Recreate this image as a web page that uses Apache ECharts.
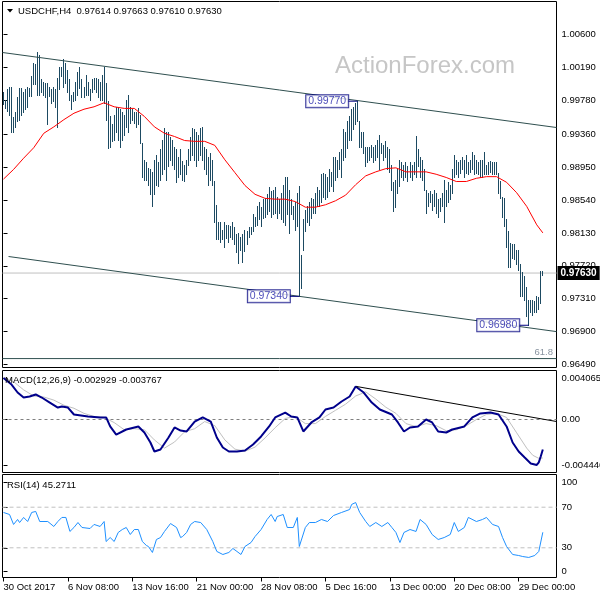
<!DOCTYPE html>
<html><head><meta charset="utf-8">
<script src="https://cdn.jsdelivr.net/npm/echarts@6/dist/echarts.min.js"></script>
<style>html,body{margin:0;padding:0;background:#fff}#c{width:600px;height:600px}</style>
</head><body><div id="c"></div>
<script>
// ---- price bars (H4), index 0..268 ----
const highs = [
0.9989,0.9979,0.9992,0.9995,0.9995,0.9957,0.9963,0.9982,0.9994,0.9994,
0.9988,0.9992,0.9995,0.9994,1.0008,1.0025,1.0023,1.0038,1.0034,1.0004,
1.0001,1.0000,1.0000,0.9995,0.9992,0.9995,0.9992,1.0006,1.0020,1.0020,
1.0029,1.0025,1.0016,1.0004,0.9985,0.9988,1.0001,1.0013,1.0019,1.0004,
0.9995,1.0010,1.0001,0.9992,1.0004,1.0006,1.0006,1.0004,1.0001,1.0010,
1.0019,1.0000,0.9977,0.9958,0.9948,0.9960,0.9970,0.9969,0.9967,0.9963,
0.9960,0.9979,0.9985,0.9970,0.9967,0.9963,0.9964,0.9969,0.9960,0.9925,
0.9904,0.9901,0.9894,0.9892,0.9889,0.9904,0.9910,0.9901,0.9917,0.9929,
0.9944,0.9938,0.9939,0.9933,0.9929,0.9920,0.9917,0.9908,0.9917,0.9902,
0.9898,0.9904,0.9917,0.9933,0.9944,0.9942,0.9938,0.9935,0.9944,0.9945,
0.9920,0.9917,0.9908,0.9913,0.9904,0.9877,0.9848,0.9827,0.9826,0.9817,
0.9827,0.9823,0.9823,0.9821,0.9827,0.9820,0.9811,0.9813,0.9808,0.9811,
0.9817,0.9815,0.9820,0.9820,0.9836,0.9833,0.9846,0.9851,0.9845,0.9855,
0.9857,0.9861,0.9870,0.9865,0.9867,0.9870,0.9858,0.9855,0.9863,0.9873,
0.9882,0.9883,0.9867,0.9855,0.9846,0.9851,0.9863,0.9871,0.9786,0.9830,
0.9842,0.9846,0.9851,0.9857,0.9855,0.9863,0.9870,0.9867,0.9886,0.9888,
0.9886,0.9882,0.9892,0.9889,0.9908,0.9907,0.9904,0.9914,0.9917,0.9942,
0.9938,0.9952,0.9958,0.9967,0.9970,0.9975,0.9977,0.9952,0.9939,0.9938,
0.9920,0.9920,0.9920,0.9923,0.9920,0.9923,0.9929,0.9935,0.9925,0.9923,
0.9927,0.9920,0.9917,0.9898,0.9876,0.9879,0.9892,0.9904,0.9901,0.9898,
0.9901,0.9896,0.9901,0.9898,0.9901,0.9934,0.9917,0.9908,0.9904,0.9892,
0.9867,0.9863,0.9865,0.9861,0.9867,0.9863,0.9855,0.9857,0.9863,0.9879,
0.9867,0.9876,0.9873,0.9892,0.9910,0.9904,0.9901,0.9904,0.9908,0.9904,
0.9910,0.9901,0.9904,0.9914,0.9910,0.9904,0.9901,0.9904,0.9904,0.9914,
0.9898,0.9901,0.9902,0.9901,0.9901,0.9901,0.9888,0.9877,0.9858,0.9857,
0.9830,0.9815,0.9801,0.9799,0.9799,0.9792,0.9792,0.9774,0.9764,0.9759,
0.9746,0.9730,0.9730,0.9730,0.9728,0.9734,0.9733,0.9765,0.9766];
const lows = [
0.9973,0.9969,0.9965,0.9960,0.9938,0.9938,0.9945,0.9952,0.9954,0.9960,
0.9963,0.9967,0.9970,0.9983,0.9983,0.9998,0.9998,0.9985,0.9985,0.9988,
0.9985,0.9982,0.9948,0.9983,0.9975,0.9977,0.9970,0.9945,0.9992,1.0008,
0.9995,1.0000,0.9988,0.9979,0.9967,0.9977,0.9979,0.9985,0.9994,0.9982,
0.9982,0.9985,0.9985,0.9979,0.9988,0.9992,0.9989,0.9982,0.9979,0.9979,
0.9975,0.9954,0.9919,0.9920,0.9927,0.9929,0.9938,0.9929,0.9920,0.9929,
0.9935,0.9945,0.9938,0.9950,0.9954,0.9950,0.9945,0.9948,0.9925,0.9883,
0.9879,0.9879,0.9873,0.9861,0.9846,0.9861,0.9873,0.9871,0.9879,0.9886,
0.9892,0.9879,0.9896,0.9904,0.9898,0.9892,0.9876,0.9882,0.9886,0.9879,
0.9877,0.9886,0.9898,0.9904,0.9910,0.9904,0.9896,0.9904,0.9910,0.9904,
0.9892,0.9886,0.9873,0.9879,0.9873,0.9826,0.9805,0.9805,0.9802,0.9805,
0.9795,0.9807,0.9802,0.9808,0.9805,0.9799,0.9789,0.9776,0.9792,0.9777,
0.9790,0.9799,0.9808,0.9811,0.9815,0.9821,0.9823,0.9830,0.9821,0.9832,
0.9833,0.9836,0.9840,0.9833,0.9836,0.9838,0.9832,0.9838,0.9830,0.9827,
0.9823,0.9836,0.9813,0.9836,0.9830,0.9817,0.9821,0.9734,0.9745,0.9792,
0.9815,0.9826,0.9823,0.9832,0.9838,0.9838,0.9846,0.9846,0.9851,0.9858,
0.9855,0.9858,0.9865,0.9871,0.9865,0.9879,0.9883,0.9892,0.9883,0.9904,
0.9908,0.9919,0.9929,0.9929,0.9942,0.9948,0.9952,0.9920,0.9920,0.9913,
0.9896,0.9901,0.9904,0.9908,0.9901,0.9904,0.9907,0.9892,0.9913,0.9904,
0.9908,0.9892,0.9889,0.9867,0.9840,0.9845,0.9863,0.9871,0.9882,0.9879,
0.9883,0.9877,0.9882,0.9879,0.9886,0.9883,0.9896,0.9883,0.9879,0.9867,
0.9838,0.9846,0.9851,0.9842,0.9846,0.9838,0.9833,0.9840,0.9846,0.9826,
0.9846,0.9851,0.9855,0.9863,0.9883,0.9886,0.9883,0.9888,0.9892,0.9883,
0.9888,0.9886,0.9889,0.9892,0.9886,0.9888,0.9886,0.9883,0.9883,0.9886,
0.9886,0.9886,0.9889,0.9886,0.9886,0.9886,0.9863,0.9857,0.9833,0.9821,
0.9796,0.9771,0.9770,0.9782,0.9780,0.9774,0.9767,0.9734,0.9734,0.9730,
0.9709,0.9698,0.9714,0.9711,0.9714,0.9714,0.9718,0.9726,0.9761];

// moving average (red)
const maBar = [0,5,10,15,20,25,30,35,40,45,50,55,60,65,70,75,80,85,90,95,100,105,110,115,120,125,130,135,140,145,150,155,160,165,170,175,180,185,190,195,200,205,210,215,220,225,230,235,240,245,250,255,260,265,268];
const maVal = [0.9880,0.9892,0.9906,0.9919,0.9937,0.9945,0.9954,0.9962,0.9967,0.9970,0.9975,0.9970,0.9968,0.9968,0.9958,0.9945,0.9937,0.9933,0.9928,0.9927,0.9927,0.9922,0.9904,0.9888,0.9872,0.9861,0.9856,0.9855,0.9855,0.9852,0.9845,0.9845,0.9848,0.9853,0.9860,0.9873,0.9884,0.9889,0.9893,0.9894,0.9889,0.9889,0.9889,0.9886,0.9882,0.9877,0.9877,0.9881,0.9883,0.9883,0.9876,0.9863,0.9846,0.9823,0.9813];

// channel lines [bar, price]
const channelUpper = [[-0.5, 1.00376], [274.8, 0.99442]];
const channelLower = [[2.5, 0.97836], [274.8, 0.96901]];

// price levels
const currentPrice = 0.97630;
const fibPrice = 0.96565;
const fibText = '61.8';

// annotations
const annotBar = [176, 147, 261];
const annotPrice = [0.9977, 0.9734, 0.9698];
const annotText = ['0.99770', '0.97340', '0.96980'];

// price axis labels
const priceTicks = [1.00600,1.00190,0.99780,0.99360,0.98950,0.98540,0.98130,0.97720,0.97310,0.96900,0.96490];

// MACD(12,26,9)
const macdBar = [0,4,7,10,13,16,19,23,27,29,32,35,42,48,51,53,56,61,67,70,73,75,78,82,85,88,91,95,99,103,106,109,112,116,120,124,128,132,135,140,143,146,149,153,157,160,164,168,172,175,179,183,187,193,196,199,202,206,210,213,216,220,223,229,233,237,242,246,250,253,256,259,262,265,266,267,268];
const macdVal = [0.004065,0.00342,0.00264,0.00215,0.00225,0.00245,0.00215,0.00166,0.00117,0.00127,0.00117,0.00049,0.00029,0.0002,0.0002,-0.00068,-0.00147,-0.00098,-0.00068,-0.00127,-0.00225,-0.00313,-0.00293,-0.00176,-0.00078,-0.00108,-0.00117,-0.0002,0.0002,-0.0002,-0.00176,-0.00274,-0.00313,-0.00313,-0.00303,-0.00245,-0.00166,-0.00068,0.0002,0.00068,0.00029,0.0002,-0.00117,-0.00029,0.0002,0.00098,0.00117,0.00176,0.00225,0.00323,0.00264,0.00166,0.00098,0.00049,-0.00029,-0.00117,-0.00078,-0.00068,0,-0.00029,-0.00117,-0.00127,-0.00098,-0.00068,0.0002,0.00059,0.00068,0.00049,-0.00068,-0.00225,-0.00313,-0.00372,-0.0043,-0.004446,-0.0042,-0.0036,-0.002929];
const sigBar = [0,5,10,15,20,25,30,35,40,45,50,55,60,65,70,75,80,85,90,95,100,105,110,115,120,125,130,135,140,145,150,155,160,165,170,175,180,185,190,195,200,205,210,215,220,225,230,235,240,245,250,255,260,263,266,268];
const sigVal = [0.0041,0.0037,0.0029,0.0023,0.0022,0.0019,0.0014,0.0011,0.0006,0.0003,0.0002,-0.0003,-0.0010,-0.0009,-0.0010,-0.0020,-0.0028,-0.0022,-0.0012,-0.0009,-0.0002,-0.0006,-0.0020,-0.0029,-0.0031,-0.0027,-0.0018,-0.0008,0.0001,0.0003,-0.0004,-0.0004,0.0003,0.0009,0.0015,0.0023,0.0027,0.0020,0.0012,0.0006,-0.0004,-0.0007,-0.0004,-0.0006,-0.0011,-0.0010,-0.0006,0.0000,0.0005,0.0006,0.0002,-0.0013,-0.0028,-0.0035,-0.0038,-0.003767];
const macdTrend = [[175.4, 0.00323], [274.8, -0.000196]];
const macdTicks = [0.004065, 0, -0.004446];

// RSI(14)
const rsiBar = [0,3,5,7,8,10,12,14,16,18,22,25,27,29,31,33,35,37,39,43,45,48,50,51,53,55,57,59,61,63,65,67,69,71,72,74,76,78,80,83,86,88,89,91,93,95,98,101,104,106,109,112,114,116,118,120,123,125,128,131,133,135,136,139,141,144,146,147,150,152,155,158,161,164,168,172,173,175,177,180,182,185,188,191,193,195,197,199,202,205,207,210,213,216,219,222,224,226,229,231,235,238,240,243,246,248,250,253,256,258,261,264,266,268];
const rsiVal = [64.8,62.8,53.0,57.9,54.9,59.9,55.9,64.8,65.8,55.9,55.9,51.0,55.9,59.9,59.9,46.1,50.0,54.9,50.0,49.0,53.0,51.0,55.9,36.2,40.1,36.2,45.1,48.0,50.0,43.1,48.0,48.0,36.2,32.3,31.3,25.4,38.2,40.1,46.1,53.9,50.0,40.1,41.1,45.1,53.0,55.9,54.9,48.0,36.2,26.4,23.4,25.4,29.3,26.4,23.4,31.3,35.2,41.1,48.0,57.9,62.8,55.9,60.8,62.8,50.0,50.0,59.9,31.3,50.0,54.9,54.9,57.9,55.9,61.8,64.8,67.7,72.7,74.6,64.8,55.9,51.0,54.9,51.0,54.9,50.0,45.1,35.2,45.1,48.0,46.1,57.9,53.0,43.1,38.2,40.1,43.1,54.9,46.1,50.0,59.9,55.9,57.9,59.9,53.0,51.0,40.1,31.3,23.4,22.4,21.4,20.5,22.4,26.4,45.27];
const rsiLevels = [70, 30];
const rsiTickText = ['100', '70', '30', '0'];

// time axis
const timeBars = [0,32,64,96,128,160,192,224,256];
const timeLabels = ['30 Oct 2017','6 Nov 08:00','13 Nov 16:00','21 Nov 00:00','28 Nov 08:00','5 Dec 16:00','13 Dec 00:00','20 Dec 08:00','29 Dec 00:00'];

// ---------------- chart ----------------
const F = 'Liberation Sans';
const FS = 9.5;
const X_MIN = -0.5, X_MAX = 274.8;
const pairs = (a, b) => a.map((v, k) => [v, b[k]]);
const hline = v => [[X_MIN, v], [X_MAX, v]];

function xAxis(g, showLabels) {
  return {
    type: 'value', gridIndex: g, min: X_MIN, max: X_MAX,
    axisLine: { show: false },
    splitLine: { show: false },
    axisTick: showLabels ? { show: true, customValues: timeBars, length: 4, lineStyle: { color: '#000' } } : { show: false },
    axisLabel: showLabels ? {
      show: true, customValues: timeBars, align: 'left', margin: 5,
      fontFamily: F, fontSize: FS, color: '#000',
      formatter: v => timeLabels[timeBars.indexOf(Math.round(v))] || ''
    } : { show: false }
  };
}
function yAxis(g, min, max, ticks, fmt) {
  return {
    type: 'value', gridIndex: g, position: 'right', min: min, max: max,
    axisLine: { show: false },
    splitLine: { show: false },
    axisTick: { show: true, customValues: ticks, length: 4, lineStyle: { color: '#000' } },
    axisLabel: { show: true, customValues: ticks, margin: 5, fontFamily: F, fontSize: FS, color: '#000', formatter: fmt }
  };
}

const rsiTickPos = [94.3, 70, 30, 6.6];

const option = {
  animation: false,
  backgroundColor: '#fff',
  grid: [
    { left: 2.5, top: 1.5, width: 554, height: 366, show: true, borderColor: '#000', borderWidth: 1, containLabel: false, outerBoundsMode: 'none' },
    { left: 2.5, top: 370.5, width: 554, height: 102, show: true, borderColor: '#000', borderWidth: 1, containLabel: false, outerBoundsMode: 'none' },
    { left: 2.5, top: 474.5, width: 554, height: 103, show: true, borderColor: '#000', borderWidth: 1, containLabel: false, outerBoundsMode: 'none' }
  ],
  xAxis: [xAxis(0, false), xAxis(1, false), xAxis(2, true)],
  yAxis: [
    yAxis(0, 0.96454, 1.01011, priceTicks, v => v.toFixed(5)),
    yAxis(1, -0.005185, 0.004794, macdTicks, v => Math.abs(v) < 1e-9 ? '0.00' : v.toFixed(6)),
    yAxis(2, 0.74, 102.2, rsiTickPos, v => rsiTickText[rsiTickPos.indexOf(v)] || '')
  ],
  graphic: [
    { type: 'text', x: 425, y: 66, z: 0, silent: true,
      style: { text: 'ActionForex.com', font: '24px "Liberation Sans"', fill: '#c6c6c6', align: 'center', verticalAlign: 'middle' } },
    { type: 'polygon', z: 10, shape: { points: [[7, 9], [13, 9], [10, 12.5]] }, style: { fill: '#000' } },
    { type: 'text', x: 18, y: 11, z: 10,
      style: { text: 'USDCHF,H4  0.97614 0.97663 0.97610 0.97630', font: FS + 'px "Liberation Sans"', fill: '#000', align: 'left', verticalAlign: 'middle' } },
    { type: 'text', x: 5, y: 380, z: 10,
      style: { text: 'MACD(12,26,9) -0.002929 -0.003767', font: FS + 'px "Liberation Sans"', fill: '#000', align: 'left', verticalAlign: 'middle' } },
    { type: 'text', x: 7, y: 485, z: 10,
      style: { text: 'RSI(14) 45.2711', font: FS + 'px "Liberation Sans"', fill: '#000', align: 'left', verticalAlign: 'middle' } }
  ],
  series: [
    // horizontal level lines (drawn first, under the bars)
    { type: 'line', xAxisIndex: 0, yAxisIndex: 0, data: hline(currentPrice), symbol: 'none', silent: true, z: 1,
      lineStyle: { color: '#c0c0c0', width: 1 },
      endLabel: { show: true, distance: 1, formatter: () => currentPrice.toFixed(5), backgroundColor: '#000', color: '#fff',
                  fontFamily: F, fontSize: 10, fontWeight: 'bold', padding: [2, 3, 2, 3] } },
    { type: 'line', xAxisIndex: 0, yAxisIndex: 0, data: hline(fibPrice), symbol: 'none', silent: true, z: 1,
      lineStyle: { color: '#2f4f4f', width: 1 } },
    { type: 'scatter', xAxisIndex: 0, yAxisIndex: 0, data: [[X_MAX, fibPrice]], symbolSize: 1, silent: true, z: 1,
      itemStyle: { color: 'transparent' },
      label: { show: true, position: 'left', distance: 3, offset: [0, -6], formatter: fibText, color: '#6a7888', fontFamily: F, fontSize: FS } },
    {
      type: 'custom', xAxisIndex: 0, yAxisIndex: 0, clip: true, z: 2,
      data: highs.map((h, i) => [i, lows[i], h]),
      encode: { x: 0, y: [1, 2] },
      renderItem: function (params, api) {
        const i = api.value(0);
        const pH = api.coord([i, api.value(2)]);
        const pL = api.coord([i, api.value(1)]);
        const x = Math.floor(pH[0]) + 0.5;
        return { type: 'line', shape: { x1: x, y1: Math.round(pH[1]), x2: x, y2: Math.round(pL[1]) + 1 },
                 style: { stroke: '#1d4a62', lineWidth: 1 } };
      }
    },
    { type: 'line', xAxisIndex: 0, yAxisIndex: 0, data: pairs(maBar, maVal), symbol: 'none', silent: true,
      lineStyle: { color: '#ff0000', width: 1 }, z: 3 },
    { type: 'line', xAxisIndex: 0, yAxisIndex: 0, data: channelUpper, symbol: 'none', silent: true, lineStyle: { color: '#2f4f4f', width: 1 }, z: 3 },
    { type: 'line', xAxisIndex: 0, yAxisIndex: 0, data: channelLower, symbol: 'none', silent: true, lineStyle: { color: '#2f4f4f', width: 1 }, z: 3 },
    // annotation connectors
    ...annotBar.map((b, k) => ({
      type: 'line', xAxisIndex: 0, yAxisIndex: 0, data: [[b - 5, annotPrice[k]], [b, annotPrice[k]]],
      symbol: 'none', silent: true, lineStyle: { color: '#000080', width: 1 }, z: 4
    })),
    {
      type: 'scatter', xAxisIndex: 0, yAxisIndex: 0, z: 5, silent: true,
      data: annotBar.map((b, k) => ({ value: [b, annotPrice[k]], text: annotText[k] })),
      symbolSize: 1, itemStyle: { color: 'transparent' },
      label: {
        show: true, position: 'left', distance: 9,
        formatter: p => p.data.text,
        fontFamily: F, fontSize: 10.5, color: '#1a1aa6', backgroundColor: '#fff',
        borderColor: '#000080', borderWidth: 1, padding: [1, 2, 0, 2], lineHeight: 11
      }
    },
    // MACD panel
    { type: 'line', xAxisIndex: 1, yAxisIndex: 1, data: hline(0), symbol: 'none', silent: true, z: 1,
      lineStyle: { color: '#808080', width: 1, type: [3, 3] } },
    { type: 'line', xAxisIndex: 1, yAxisIndex: 1, data: pairs(sigBar, sigVal), symbol: 'none', silent: true,
      lineStyle: { color: '#c0c0c0', width: 1 }, z: 2 },
    { type: 'line', xAxisIndex: 1, yAxisIndex: 1, data: pairs(macdBar, macdVal), symbol: 'none', silent: true,
      lineStyle: { color: '#00008b', width: 2 }, z: 3 },
    { type: 'line', xAxisIndex: 1, yAxisIndex: 1, data: macdTrend, symbol: 'none', silent: true, lineStyle: { color: '#000', width: 1 }, z: 4 },
    // RSI panel
    ...rsiLevels.map(v => ({
      type: 'line', xAxisIndex: 2, yAxisIndex: 2, data: hline(v), symbol: 'none', silent: true, z: 1,
      lineStyle: { color: '#c0c0c0', width: 1, type: [4, 3] }
    })),
    { type: 'line', xAxisIndex: 2, yAxisIndex: 2, data: pairs(rsiBar, rsiVal), symbol: 'none', silent: true,
      lineStyle: { color: '#1e90ff', width: 1 }, z: 3 }
  ]
};
const chart = echarts.init(document.getElementById('c'), null, { renderer: 'canvas' });
chart.setOption(option);
</script>
</body></html>
